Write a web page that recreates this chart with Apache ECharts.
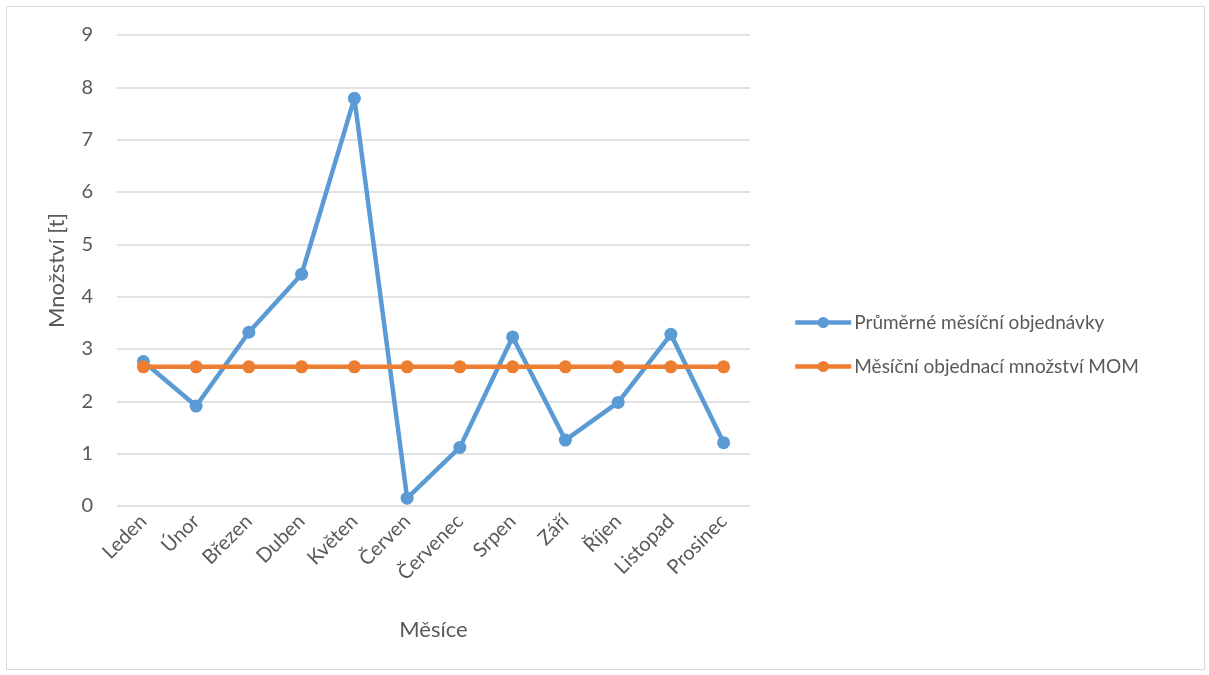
<!DOCTYPE html>
<html>
<head>
<meta charset="utf-8">
<script src="https://cdn.jsdelivr.net/npm/echarts@6/dist/echarts.min.js"></script>
<style>
  html, body { margin: 0; padding: 0; background: #fff; }
  #chart { width: 1209px; height: 675px; }
</style>
</head>
<body>
<div id="chart"></div>
<script>
// Monthly data
const months = ['Leden', 'Únor', 'Březen', 'Duben', 'Květen', 'Červen', 'Červenec', 'Srpen', 'Září', 'Říjen', 'Listopad', 'Prosinec'];
const avgOrders = [2.76, 1.91, 3.32, 4.43, 7.79, 0.15, 1.12, 3.23, 1.26, 1.98, 3.28, 1.21];
const momQuantity = [2.66, 2.66, 2.66, 2.66, 2.66, 2.66, 2.66, 2.66, 2.66, 2.66, 2.66, 2.66];
const seriesNames = ['Průměrné měsíční objednávky', 'Měsíční objednací množství MOM'];

const FONT = 'Lato, "Open Sans", sans-serif';
const TEXT = '#595959';

const chart = echarts.init(document.getElementById('chart'));
chart.setOption({
  animation: false,
  textStyle: { fontFamily: FONT },
  graphic: [{
    type: 'rect',
    shape: { x: 6.5, y: 6.5, width: 1198, height: 663 },
    style: { fill: 'none', stroke: '#D9D9D9', lineWidth: 1 },
    silent: true
  }],
  grid: { left: 117, right: 459, top: 35, bottom: 169 },
  legend: {
    orient: 'vertical',
    left: 788,
    top: 308,
    itemGap: 25,
    itemWidth: 56,
    itemHeight: 14,
    lineStyle: { width: 4.5 },
    textStyle: { color: TEXT, fontSize: 19, fontFamily: FONT, padding: [0, 0, 0, -2] },
    data: seriesNames
  },
  xAxis: {
    type: 'category',
    data: months,
    boundaryGap: true,
    axisLine: { show: false },
    axisTick: { show: false },
    axisLabel: { rotate: 45, color: TEXT, fontSize: 20, margin: 12, fontFamily: FONT },
    name: 'Měsíce',
    nameLocation: 'middle',
    nameGap: 113,
    nameTextStyle: { color: TEXT, fontSize: 22, fontFamily: FONT }
  },
  yAxis: {
    type: 'value',
    min: 0,
    max: 9,
    interval: 1,
    axisLine: { show: false },
    axisTick: { show: false },
    axisLabel: { color: TEXT, fontSize: 20, margin: 24, fontFamily: FONT },
    splitLine: { lineStyle: { color: '#D9D9D9', width: 1.5 } },
    name: 'Množství [t]',
    nameLocation: 'middle',
    nameGap: 49,
    nameTextStyle: { color: TEXT, fontSize: 22, fontFamily: FONT }
  },
  series: [
    {
      name: seriesNames[0],
      type: 'line',
      data: avgOrders,
      symbol: 'circle',
      symbolSize: 13,
      lineStyle: { color: '#5B9BD5', width: 4.5 },
      itemStyle: { color: '#5B9BD5' }
    },
    {
      name: seriesNames[1],
      type: 'line',
      data: momQuantity,
      symbol: 'circle',
      symbolSize: 13,
      lineStyle: { color: '#ED7D31', width: 4.5 },
      itemStyle: { color: '#ED7D31' }
    }
  ]
});
</script>
</body>
</html>
